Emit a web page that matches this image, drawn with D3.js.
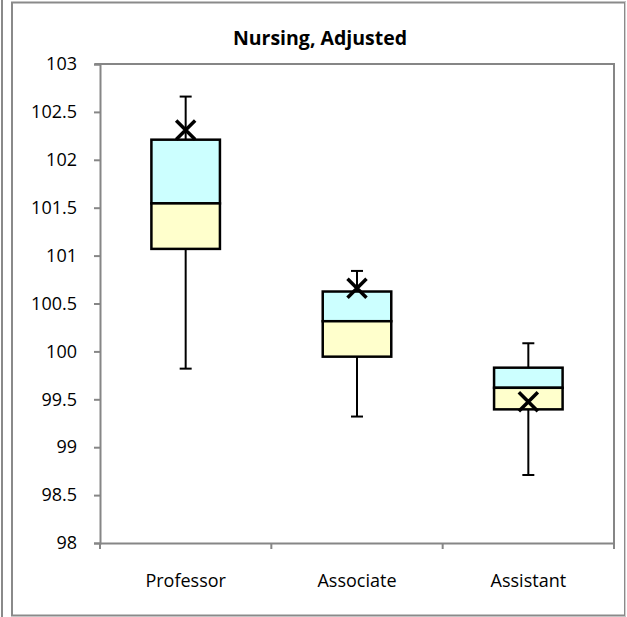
<!DOCTYPE html>
<html><head><meta charset="utf-8">
<script src="https://cdn.jsdelivr.net/npm/d3@7"></script>
<style>body{margin:0;background:#fff}text{font-family:"Open Sans",sans-serif}</style>
</head><body>
<script>
const categories = ["Professor","Associate","Assistant"];
const whiskerLow  = [99.82, 99.32, 98.71];
const q1          = [101.07, 99.945, 99.395];
const median      = [101.545, 100.315, 99.62];
const q3          = [102.21, 100.625, 99.83];
const whiskerHigh = [102.66, 100.84, 100.085];
const mean        = [102.31, 100.66, 99.475];
const yTicks = [98, 98.5, 99, 99.5, 100, 100.5, 101, 101.5, 102, 102.5, 103];
const title = "Nursing, Adjusted";

const W = 627, H = 617;
const svg = d3.select("body").append("svg").attr("width", W).attr("height", H);
const L = 100, R = 614, T = 64, B = 543;
const axisCol = "#868686";

// outer borders
svg.append("line").attr("x1",2).attr("x2",2).attr("y1",0).attr("y2",H).attr("stroke","#8a8a8a").attr("stroke-width",2);
svg.append("rect").attr("x",12).attr("y",2.5).attr("width",613).attr("height",613)
  .attr("fill","none").attr("stroke","#8a8a8a").attr("stroke-width",2);
svg.append("line").attr("x1",625.5).attr("x2",625.5).attr("y1",2).attr("y2",616).attr("stroke","#d0d0d0").attr("stroke-width",1);

const x = d3.scaleBand().domain(categories).range([L, R]).padding(0);
const y = d3.scaleLinear().domain([98, 103]).range([B, T]);

// title
svg.append("text").attr("x", 320).attr("y", 45).attr("text-anchor","middle")
  .attr("font-weight","bold").attr("font-size",19.5).text(title);

// y axis
const yAxis = svg.append("g").attr("transform",`translate(${L},0)`)
  .call(d3.axisLeft(y).tickValues(yTicks).tickSize(6).tickPadding(17).tickFormat(d => String(d)));
yAxis.selectAll("path,line").attr("stroke", axisCol).attr("stroke-width", 2);
yAxis.selectAll("text").attr("font-size", 18).attr("fill","#000").attr("font-family","Open Sans");

// x axis
const xAxis = svg.append("g").attr("transform",`translate(0,${B})`)
  .call(d3.axisBottom(x).tickSize(0).tickPadding(31));
xAxis.select("path").attr("stroke", axisCol).attr("stroke-width", 2);
xAxis.selectAll("text").attr("font-size", 18).attr("fill","#000").attr("font-family","Open Sans");
// category boundary ticks
const bounds = categories.map(c => x(c)).concat([x(categories[categories.length-1]) + x.bandwidth()]);
svg.append("g").selectAll("line").data(bounds).join("line")
  .attr("x1", d => d).attr("x2", d => d).attr("y1", B).attr("y2", B + 6)
  .attr("stroke", axisCol).attr("stroke-width", 2);

// plot border top/right
svg.append("line").attr("x1",L-5).attr("x2",R+1).attr("y1",T).attr("y2",T).attr("stroke",axisCol).attr("stroke-width",2);
svg.append("line").attr("x1",R).attr("x2",R).attr("y1",T).attr("y2",B+6).attr("stroke",axisCol).attr("stroke-width",2);

const boxW = x.bandwidth() * 0.4;
const capW = 12;
const g = svg.append("g");
categories.forEach((c, i) => {
  const cx = x(c) + x.bandwidth() / 2;
  // whiskers
  g.append("line").attr("x1",cx).attr("x2",cx).attr("y1",y(whiskerHigh[i])).attr("y2",y(q3[i])).attr("stroke","#000").attr("stroke-width",2);
  g.append("line").attr("x1",cx).attr("x2",cx).attr("y1",y(q1[i])).attr("y2",y(whiskerLow[i])).attr("stroke","#000").attr("stroke-width",2);
  g.append("line").attr("x1",cx-capW/2).attr("x2",cx+capW/2).attr("y1",y(whiskerHigh[i])).attr("y2",y(whiskerHigh[i])).attr("stroke","#000").attr("stroke-width",2);
  g.append("line").attr("x1",cx-capW/2).attr("x2",cx+capW/2).attr("y1",y(whiskerLow[i])).attr("y2",y(whiskerLow[i])).attr("stroke","#000").attr("stroke-width",2);
  // boxes
  g.append("rect").attr("x",cx-boxW/2).attr("width",boxW).attr("y",y(q3[i])).attr("height",y(median[i])-y(q3[i]))
    .attr("fill","#CCFFFF").attr("stroke","#000").attr("stroke-width",2.5);
  g.append("rect").attr("x",cx-boxW/2).attr("width",boxW).attr("y",y(median[i])).attr("height",y(q1[i])-y(median[i]))
    .attr("fill","#FFFFCC").attr("stroke","#000").attr("stroke-width",2.5);
  // mean marker
  const my = y(mean[i]), s = 9.5;
  g.append("path").attr("d",`M${cx-s},${my-s}L${cx+s},${my+s}M${cx-s},${my+s}L${cx+s},${my-s}`)
    .attr("stroke","#000").attr("stroke-width",3.5).attr("fill","none");
});
</script>
</body></html>
